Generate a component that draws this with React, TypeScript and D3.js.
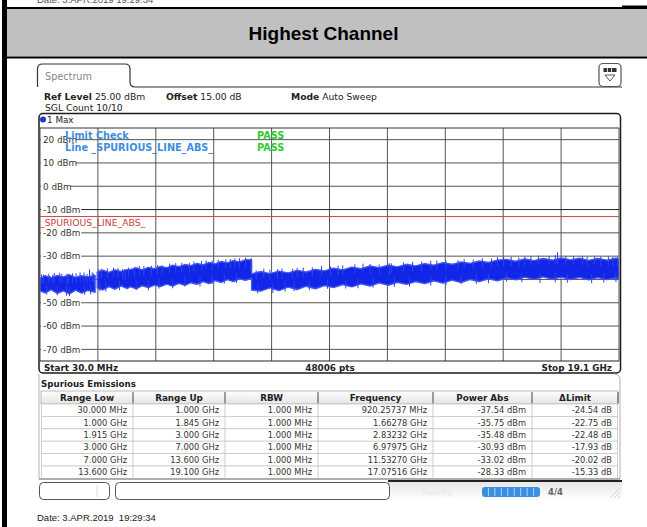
import React from "react";
import * as d3 from "d3";

// max-hold trace envelope (GHz, dBm); null = gap between sweep ranges
const traceFreq = [
  0.03, 0.2, 0.4, 0.6, 0.8, 1.0, 1.2, 1.4, 1.6, 1.845,
  1.88,
  1.915, 2.1, 2.3, 2.5, 2.7, 2.9,
  3.0, 3.2, 3.4, 3.6, 3.8, 4.0, 4.2, 4.4, 4.6, 4.8, 5.0, 5.2, 5.4, 5.6, 5.8, 6.0, 6.2, 6.4, 6.6, 6.8, 7.0,
  7.0, 7.3, 7.6, 7.9, 8.2, 8.5, 8.8, 9.1, 9.4, 9.7, 10.0, 10.3, 10.6, 10.9, 11.2, 11.5, 11.8, 12.1, 12.4, 12.7,
  13.0, 13.3, 13.6, 13.9, 14.2, 14.5, 14.8, 15.1, 15.4, 15.7, 16.0, 16.3, 16.6, 16.9, 17.2, 17.5, 17.8, 18.1,
  18.4, 18.7, 19.0, 19.1,
];
const traceMax = [
  -39.6, -38.4, -39.3, -38.3, -38.9, -38.0, -39.1, -38.4, -38.9, -38.3,
  null,
  -36.9, -36.0, -37.0, -35.9, -36.6, -35.8,
  -35.8, -35.0, -35.9, -34.8, -35.4, -34.4, -35.0, -33.9, -34.5, -33.6, -34.1, -33.1, -33.8, -32.7, -33.3, -32.3, -32.9, -31.9, -32.5, -31.5, -31.6,
  -37.6, -36.6, -37.5, -36.4, -37.2, -36.1, -36.8, -35.7, -36.3, -35.2, -35.9, -34.7, -35.4, -34.2, -34.9, -33.9, -34.6, -33.5, -34.2, -33.2,
  -33.9, -32.8, -33.5, -32.5, -33.1, -32.1, -32.7, -31.7, -31.4, -32.2, -31.2, -31.9, -31.0, -31.7, -30.8, -31.6, -30.9, -31.8,
  -31.0, -31.7, -30.9, -31.4,
];
const traceMin = [
  -44.8, -45.8, -44.4, -46.0, -44.9, -46.2, -44.6, -45.9, -44.7, -45.5,
  null,
  -43.7, -44.5, -43.1, -44.2, -42.8, -43.9,
  -43.1, -44.0, -42.7, -43.5, -42.4, -43.1, -42.0, -42.9, -41.7, -42.5, -41.4, -42.1, -40.9, -41.8, -40.5, -41.3, -40.1, -40.9, -39.7, -40.4, -39.5,
  -44.5, -45.0, -43.6, -44.8, -43.3, -44.3, -42.9, -44.0, -42.6, -43.5, -42.2, -43.2, -41.9, -42.8, -41.5, -42.5, -41.2, -42.1, -40.9, -41.8,
  -40.6, -41.6, -40.3, -41.3, -40.0, -40.9, -39.7, -40.6, -39.3, -40.2, -39.0, -40.0, -38.9, -39.9, -39.0, -40.1, -39.1, -40.2,
  -39.2, -40.1, -39.3, -39.8,
];

// single noise spikes sticking out of the band
const upSpikeFreq = [
  0.08, 0.15, 0.32, 0.45, 0.5, 0.68, 0.75, 0.98, 1.1, 1.22, 1.35, 1.48, 1.58, 1.75, 1.8,
  1.97, 2.05, 2.25, 2.45, 2.6, 2.75, 2.95,
  3.15, 3.3, 3.45, 3.7, 3.9, 4.05, 4.3, 4.5, 4.7, 4.95, 5.1, 5.35, 5.5, 5.7, 5.9, 6.15, 6.3, 6.45, 6.6, 6.8,
  7.15, 7.4, 7.6, 7.85, 8.0, 8.35, 8.5, 8.7, 9.0, 9.3, 9.6, 9.85, 10.0, 10.4, 10.67, 10.9, 11.2, 11.6, 12.0,
  12.3, 12.6, 12.9, 13.1, 13.4, 13.8, 14.0, 14.3, 14.6, 14.9, 15.1, 15.3, 15.55, 15.8, 16.0, 16.2, 16.45,
  16.8, 17.0, 17.35, 17.6, 17.9, 18.05, 18.3, 18.5, 18.75, 18.9, 19.05,
];
const upSpikeLevel = [
  -37.9, -37.8, -37.5, -38.0, -37.2, -37.1, -37.6, -37.6, -37.4, -37.3, -37.0, -37.0, -37.7, -36.9, -37.4,
  -35.6, -35.4, -35.3, -35.0, -35.1, -35.6, -34.9,
  -34.6, -34.2, -34.3, -34.1, -33.8, -33.9, -33.2, -33.0, -32.8, -32.9, -32.3, -32.1, -31.8, -31.9, -31.5, -31.4, -31.2, -30.9, -30.9, -30.6,
  -36.1, -35.4, -35.8, -35.6, -35.3, -35.4, -35.0, -34.9, -34.8, -34.2, -34.4, -34.1, -34.0, -33.5, -33.2, -33.4, -33.6, -33.1, -32.6,
  -32.4, -32.3, -32.0, -31.9, -31.9, -31.7, -31.3, -31.5, -30.9, -31.0, -30.5, -30.3, -30.3, -30.6, -30.2, -30.0, -29.8,
  -29.9, -29.6, -30.0, -29.9, -29.9, -30.2, -29.8, -30.1, -30.0, -30.3, -30.4,
];
const downSpikeFreq = [
  0.25, 0.6, 0.9, 1.0, 1.5, 1.7,
  2.0, 2.2, 2.65,
  3.2, 3.6, 3.95, 4.4, 4.8, 5.3, 5.7, 6.1, 6.5,
  7.2, 7.7, 8.1, 8.4, 8.9, 9.5, 10.1, 10.5, 11.0, 11.7, 12.2, 12.9, 13.4, 13.9, 14.4, 14.8, 15.4, 15.9,
  16.5, 17.0, 17.4, 18.2, 18.6, 19.0,
];
const downSpikeLevel = [
  -46.5, -46.8, -47.0, -47.2, -46.6, -46.4,
  -45.0, -45.2, -44.6,
  -44.5, -44.6, -43.9, -43.8, -43.0, -43.0, -42.0, -41.8, -41.5,
  -46.0, -45.8, -45.2, -45.0, -44.6, -44.0, -43.9, -43.8, -43.5, -43.2, -43.0, -42.6, -42.4, -42.0, -41.9, -41.6, -41.0, -41.2,
  -41.5, -41.2, -41.4, -41.6, -41.4, -41.1,
];

const yTicks = [20, 10, 0, -10, -20, -30, -40, -50, -60, -70];
const limitLevel = -13;

// spurious emissions table
const rangeLow = ["30.000 MHz", "1.000 GHz", "1.915 GHz", "3.000 GHz", "7.000 GHz", "13.600 GHz"];
const rangeUp = ["1.000 GHz", "1.845 GHz", "3.000 GHz", "7.000 GHz", "13.600 GHz", "19.100 GHz"];
const rbw = ["1.000 MHz", "1.000 MHz", "1.000 MHz", "1.000 MHz", "1.000 MHz", "1.000 MHz"];
const frequency = ["920.25737 MHz", "1.66278 GHz", "2.83232 GHz", "6.97975 GHz", "11.53270 GHz", "17.07516 GHz"];
const peakFreqGHz = [0.92025737, 1.66278, 2.83232, 6.97975, 11.5327, 17.07516];
const powerAbs = [-37.54, -35.75, -35.48, -30.93, -33.02, -28.33];
const deltaLimit = [-24.54, -22.75, -22.48, -17.93, -20.02, -15.33];
const columns = ["Range Low", "Range Up", "RBW", "Frequency", "Power Abs", "\u0394Limit"];

const ui = "'DejaVu Sans', Verdana, sans-serif";
const arial = "'Liberation Sans', Arial, sans-serif";
const traceBlue = "#1226e8";
const spikeBlue = "#2f43ec";

export default function App() {
  const plot = { left: 40, right: 619, top: 128, bottom: 361 };
  const x = d3.scaleLinear().domain([0.03, 19.1]).range([plot.left, plot.right]);
  const y = d3.scaleLinear().domain([-75, 25]).range([plot.bottom, plot.top]);
  const div = d3.scaleLinear().domain([0, 10]).range([plot.left, plot.right]);

  const band = d3
    .area<number>()
    .defined((i) => traceMax[i] != null)
    .x((i) => x(traceFreq[i]))
    .y0((i) => y(traceMin[i] as number))
    .y1((i) => y(traceMax[i] as number));
  const bandPath = band(d3.range(traceFreq.length)) || "";

  const colEdges = [41, 133, 225, 318, 433, 532, 618];
  const rowTop = 404;
  const rowH = 12.4;
  const rows = rangeLow.map((_, i) => [
    rangeLow[i],
    rangeUp[i],
    rbw[i],
    frequency[i],
    `${powerAbs[i].toFixed(2)} dBm`,
    `${deltaLimit[i].toFixed(2)} dB`,
  ]);

  return (
    <svg
      width={647}
      height={527}
      style={{ position: "absolute", left: 0, top: 0, display: "block" }}
    >
      <defs>
        <clipPath id="plotClip">
          <rect x={plot.left} y={plot.top} width={plot.right - plot.left} height={plot.bottom - plot.top} />
        </clipPath>
        <linearGradient id="hdrGrad" x1="0" y1="0" x2="0" y2="1">
          <stop offset="0" stopColor="#ffffff" />
          <stop offset="1" stopColor="#e4e4e4" />
        </linearGradient>
        <linearGradient id="statusShade" x1="0" y1="0" x2="0" y2="1">
          <stop offset="0" stopColor="#e6e6e6" />
          <stop offset="1" stopColor="#ffffff" />
        </linearGradient>
      </defs>
      <rect width={647} height={527} fill="#fff" />

      {/* page frame from the report */}
      <text x={37} y={2.5} fontFamily={arial} fontSize={9.5} fill="#555">Date: 3.APR.2019 19:29:34</text>
      <rect x={2} y={0} width={5} height={527} fill="#000" />
      <rect x={2} y={7} width={645} height={2} fill="#000" />
      <rect x={622} y={5.5} width={25} height={3.5} fill="#000" />
      <rect x={7} y={9} width={640} height={47.5} fill="#c0c0c0" />
      <rect x={2} y={56.5} width={645} height={2} fill="#000" />
      <text x={323.5} y={40} textAnchor="middle" fontFamily={arial} fontWeight="bold" fontSize={19} fill="#000">
        Highest Channel
      </text>

      {/* Spectrum tab */}
      <path
        d="M37.5,87 V69 Q37.5,64 42.5,64 H125 Q130,64 130,69 V82 Q130,87 135,87 H622"
        fill="none"
        stroke="#333"
        strokeWidth={1.2}
      />
      <text x={45} y={80} fontFamily={ui} fontSize={9.7} fill="#888">Spectrum</text>
      <rect x={599} y={63.5} width={22} height={23} rx={4} fill="#fff" stroke="#555" strokeWidth={1.2} />
      <rect x={603.5} y={68} width={13} height={4} fill="#333" />
      {[607.5, 611.5].map((sx) => (
        <line key={sx} x1={sx} x2={sx} y1={68} y2={72} stroke="#fff" strokeWidth={0.8} />
      ))}
      <path d="M605,75 L615,75 L610,81 Z" fill="none" stroke="#555" strokeWidth={1} />

      {/* settings */}
      <g fontFamily={ui} fontSize={9.2} fill="#222">
        <text x={44} y={99.5}>
          <tspan fontWeight="bold">Ref Level</tspan> 25.00 dBm
        </text>
        <text x={166} y={99.5}>
          <tspan fontWeight="bold">Offset</tspan> 15.00 dB
        </text>
        <text x={291} y={99.5}>
          <tspan fontWeight="bold">Mode</tspan> Auto Sweep
        </text>
        <text x={45} y={111}>SGL Count 10/10</text>
      </g>

      {/* diagram frame */}
      <rect x={39} y={113.5} width={581.5} height={259.5} rx={4} fill="#fff" stroke="#1a1a1a" strokeWidth={1.5} />
      <circle cx={43} cy={119.5} r={3} fill="#1a3ad0" />
      <text x={47} y={123} fontFamily={ui} fontSize={8.8} fill="#222">1 Max</text>

      {/* grid */}
      {d3.range(11).map((k) => (
        <line key={`v${k}`} x1={div(k)} x2={div(k)} y1={plot.top} y2={plot.bottom} stroke="#555" strokeWidth={1} />
      ))}
      {yTicks.map((t) => (
        <line key={`h${t}`} x1={plot.left} x2={plot.right} y1={y(t)} y2={y(t)} stroke={t === -10 ? "#222" : "#555"} strokeWidth={1} />
      ))}
      <line x1={plot.left} x2={plot.right} y1={plot.top} y2={plot.top} stroke="#333" strokeWidth={1} />
      <line x1={plot.left} x2={plot.right} y1={plot.bottom} y2={plot.bottom} stroke="#222" strokeWidth={1.2} />

      {/* level labels */}
      {yTicks.map((t) => {
        const label = `${t} dBm`;
        return (
          <g key={`l${t}`}>
            <rect x={41} y={y(t) - 5} width={label.length * 5.6 + 1} height={10} fill="#fff" />
            <text x={43} y={y(t) + 3.3} fontFamily={ui} fontSize={8.8} fill="#333">{label}</text>
          </g>
        );
      })}

      {/* limit line */}
      <line x1={plot.left} x2={plot.right} y1={y(limitLevel)} y2={y(limitLevel)} stroke="#d04848" strokeWidth={1} />
      <text x={40} y={226} fontFamily={ui} fontSize={9.3} fill="#cc4040">_SPURIOUS_LINE_ABS_</text>

      {/* trace */}
      <g clipPath="url(#plotClip)">
        <path d={bandPath} fill={traceBlue} stroke="#4456ee" strokeWidth={1.4} strokeLinejoin="round" />
        {upSpikeFreq.map((f, i) => (
          <line key={`u${i}`} x1={x(f)} x2={x(f)} y1={y(upSpikeLevel[i])} y2={y(upSpikeLevel[i] - 4)} stroke={spikeBlue} strokeWidth={1} />
        ))}
        {downSpikeFreq.map((f, i) => (
          <line key={`d${i}`} x1={x(f)} x2={x(f)} y1={y(downSpikeLevel[i])} y2={y(downSpikeLevel[i] + 4)} stroke={spikeBlue} strokeWidth={1} />
        ))}
        {peakFreqGHz.map((f, i) => (
          <line key={`p${i}`} x1={x(f)} x2={x(f)} y1={y(powerAbs[i])} y2={y(powerAbs[i] - 5)} stroke={spikeBlue} strokeWidth={1.1} />
        ))}
      </g>

      {/* limit check */}
      <g fontFamily={ui} fontSize={9.7} fontWeight="bold">
        <text x={65} y={138.5} fill="#3d8ee0">Limit Check</text>
        <text x={65} y={151} fill="#3d8ee0">Line _SPURIOUS_LINE_ABS_</text>
        <text x={257} y={138.5} fill="#2ecc2e">PASS</text>
        <text x={257} y={151} fill="#2ecc2e">PASS</text>
      </g>

      {/* footer of diagram */}
      <g fontFamily={ui} fontSize={8.8} fontWeight="bold" fill="#222">
        <text x={44} y={370.5}>Start 30.0 MHz</text>
        <text x={330} y={370.5} textAnchor="middle">48006 pts</text>
        <text x={612} y={370.5} textAnchor="end">Stop 19.1 GHz</text>
      </g>

      {/* spurious emissions table */}
      <path d="M39,374 V479 H620 V380 Q620,374 614,374" fill="none" stroke="#b0b0b0" strokeWidth={1} />
      <text x={41} y={386.5} fontFamily={ui} fontSize={8.7} fontWeight="bold" fill="#222">Spurious Emissions</text>
      <rect x={41} y={391} width={577} height={13} fill="url(#hdrGrad)" stroke="#aaa" strokeWidth={0.8} />
      {colEdges.slice(1).map((e) => (
        <line key={`hs${e}`} x1={e} x2={e} y1={392} y2={403.5} stroke="#444" strokeWidth={1} />
      ))}
      {columns.map((c, j) => (
        <text
          key={c}
          x={(colEdges[j] + colEdges[j + 1]) / 2}
          y={401}
          textAnchor="middle"
          fontFamily={ui}
          fontSize={8.8}
          fontWeight="bold"
          fill="#222"
        >
          {c}
        </text>
      ))}
      {rows.map((r, i) => (
        <g key={`r${i}`}>
          <rect x={41.5} y={rowTop + i * rowH} width={576} height={rowH} fill="#fff" stroke="#c8c8c8" strokeWidth={0.8} />
          {r.map((v, j) => (
            <text
              key={j}
              x={colEdges[j + 1] - 6}
              y={rowTop + i * rowH + 9.2}
              textAnchor="end"
              fontFamily={ui}
              fontSize={8.3}
              fill="#333"
            >
              {v}
            </text>
          ))}
        </g>
      ))}
      {colEdges.slice(1, 6).map((e) => (
        <line key={`cs${e}`} x1={e} x2={e} y1={rowTop} y2={rowTop + 6 * rowH} stroke="#c0c0c0" strokeWidth={0.8} />
      ))}
      <line x1={39} x2={620} y1={479} y2={479} stroke="#888" strokeWidth={1} />

      {/* status bar */}
      <rect x={388} y={481} width={234} height={19} fill="url(#statusShade)" />
      <line x1={388} x2={622} y1={481} y2={481} stroke="#222" strokeWidth={2} />
      <rect x={39.5} y={482.5} width={70} height={17} rx={4} fill="#fff" stroke="#555" strokeWidth={1} />
      <line x1={97} x2={97} y1={485} y2={497} stroke="#ddd" strokeWidth={1} />
      <rect x={115.5} y={482.5} width={274} height={17} rx={4} fill="#fff" stroke="#555" strokeWidth={1} />
      <text x={421} y={495} fontFamily={ui} fontSize={9} fontWeight="bold" fill="#ececec">Ready</text>
      <rect x={482} y={487} width={58} height={10} rx={3} fill="#3b8fe0" />
      {d3.range(1, 9).map((k) => (
        <line key={`pb${k}`} x1={482 + k * 6.45} x2={482 + k * 6.45} y1={488} y2={496} stroke="#cfe3f7" strokeWidth={0.8} />
      ))}
      <text x={548} y={495} fontFamily={ui} fontSize={8.5} fontWeight="bold" fill="#666">4/4</text>
      {[0, 4, 8].map((o) => (
        <line key={`g${o}`} x1={610 + o} x2={620} y1={498} y2={488 + o} stroke="#ccc" strokeWidth={0.8} />
      ))}

      <text x={37} y={521} fontFamily={arial} fontSize={9.5} fill="#222" style={{ whiteSpace: "pre" }}>
        {"Date: 3.APR.2019  19:29:34"}
      </text>
    </svg>
  );
}
